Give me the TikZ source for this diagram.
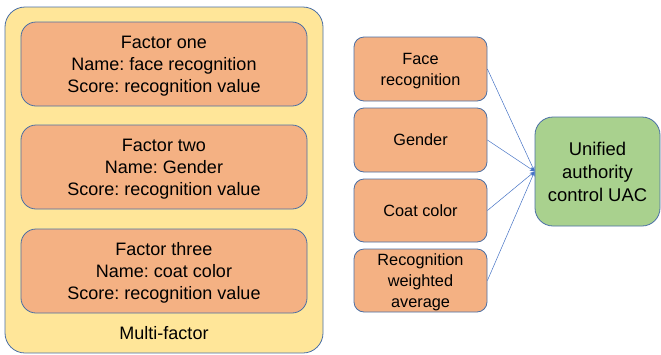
\documentclass[tikz,border=0pt]{standalone}
\usepackage{fontspec}
\setmainfont{Liberation Sans}
\frenchspacing
\usetikzlibrary{arrows.meta}
\definecolor{ofill}{HTML}{F4B183}
\definecolor{yfill}{HTML}{FFE699}
\definecolor{gfill}{HTML}{A9D18E}
\definecolor{bord}{HTML}{4A6FA5}
\definecolor{arr}{HTML}{4472C4}
\begin{document}
\begin{tikzpicture}[x=1pt,y=-1pt,
  outerbox/.style={draw=bord,fill=yfill,line width=0.8pt,rounded corners=20pt},
  factorbox/.style={draw=bord,fill=ofill,line width=0.8pt,rounded corners=15pt},
  smallbox/.style={draw=bord,fill=ofill,line width=0.8pt,rounded corners=10pt},
  uacbox/.style={draw=bord,fill=gfill,line width=0.8pt,rounded corners=18pt},
  bigtxt/.style={align=center,text depth=0pt,font=\fontsize{18}{22}\selectfont},
  midtxt/.style={align=center,text depth=0pt,font=\fontsize{16.3}{21}\selectfont},
  uactxt/.style={align=center,text depth=0pt,font=\fontsize{18.4}{23}\selectfont},
  conn/.style={draw=arr,line width=0.5pt,-{Stealth[length=5pt,width=4pt]}}]
\useasboundingbox (0,0) rectangle (661,354);
\path[outerbox] (5,7) rectangle (323,353);
\path[factorbox] (21,22) rectangle (307,106);
\path[factorbox] (21,125) rectangle (307,209);
\path[factorbox] (21,229) rectangle (307,313);
\node[bigtxt] (f1) at (164,64) {Factor one\\Name: face recognition\\Score: recognition value};
\node[bigtxt] (f2) at (164,167) {Factor two\\Name: Gender\\Score: recognition value};
\node[bigtxt] (f3) at (164,271) {Factor three\\Name: coat color\\Score: recognition value};
\node[bigtxt] (mf) at (164,333) {Multi-factor};
\node[smallbox,minimum width=133pt,minimum height=64pt,midtxt] (b1) at (420.5,69) {Face\\recognition};
\node[smallbox,minimum width=133pt,minimum height=64pt,midtxt] (b2) at (420.5,140) {Gender};
\node[smallbox,minimum width=133pt,minimum height=63pt,midtxt] (b3) at (420.5,210.5) {Coat color};
\node[smallbox,minimum width=133pt,minimum height=63pt,midtxt] (b4) at (420.5,280.5) {Recognition\\weighted\\average};
\node[uacbox,minimum width=125pt,minimum height=109pt,uactxt] (u) at (597.5,171.5) {Unified\\authority\\control UAC};
\draw[conn] (b1.east) -- (u.west);
\draw[conn] (b2.east) -- (u.west);
\draw[conn] (b3.east) -- (u.west);
\draw[conn] (b4.east) -- (u.west);
\end{tikzpicture}
\end{document}
